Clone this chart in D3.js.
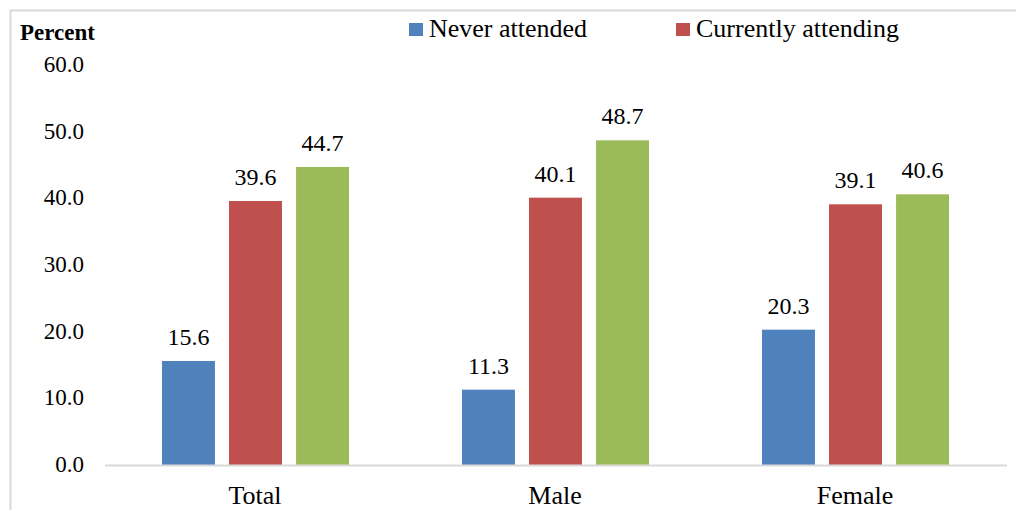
<!DOCTYPE html>
<html>
<head>
<meta charset="utf-8">
<script src="https://cdn.jsdelivr.net/npm/d3@7"></script>
</head>
<body style="margin:0">
<svg id="chart" width="1016" height="510" font-family="Liberation Serif"></svg>
<script>
// school attendance by sex, percent

const categories = ['Total', 'Male', 'Female'];
const seriesNames = ['Never attended', 'Currently attending', 'Attended in the past'];
const neverAttended = [15.6, 11.3, 20.3];
const currentlyAttending = [39.6, 40.1, 39.1];
const attendedPast = [44.7, 48.7, 40.6];
const yTicks = [0, 10, 20, 30, 40, 50, 60];

const colors = ['#4f81bd', '#c0504d', '#9bbb59'];
const series = [neverAttended, currentlyAttending, attendedPast];
const serif = 'Liberation Serif';

const svg = d3.select('#chart');

// outer frame (runs off the right / bottom edge like the source)
svg.append('rect')
  .attr('x', 10.5).attr('y', 10.5)
  .attr('width', 1100).attr('height', 600)
  .attr('fill', 'none')
  .attr('stroke', '#d9d9d9')
  .attr('stroke-width', 2);

const x0 = d3.scaleBand()
  .domain(categories)
  .range([105, 1005]);

const x1 = d3.scaleBand()
  .domain(d3.range(series.length))
  .range([57, 244])
  .paddingInner(0.21);

const y = d3.scaleLinear()
  .domain([0, 60])
  .range([465, 65]);

// y tick labels
svg.append('g').selectAll('text')
  .data(yTicks)
  .join('text')
  .attr('x', 84)
  .attr('y', d => y(d) + 7)
  .attr('text-anchor', 'end')
  .attr('font-size', 23)
  .attr('font-family', serif)
  .text(d => d.toFixed(1));

svg.append('text')
  .attr('x', 20).attr('y', 40)
  .attr('font-size', 23)
  .attr('font-weight', 'bold')
  .attr('font-family', serif)
  .text('Percent');

// bars
const groups = svg.append('g').selectAll('g')
  .data(categories)
  .join('g')
  .attr('transform', d => `translate(${x0(d)},0)`);

groups.selectAll('rect')
  .data((d, i) => series.map((s, k) => ({ k: k, v: s[i] })))
  .join('rect')
  .attr('x', d => x1(d.k))
  .attr('width', x1.bandwidth())
  .attr('y', d => y(d.v))
  .attr('height', d => y(0) - y(d.v))
  .attr('fill', d => colors[d.k]);

groups.selectAll('text.val')
  .data((d, i) => series.map((s, k) => ({ k: k, v: s[i] })))
  .join('text')
  .attr('class', 'val')
  .attr('x', d => x1(d.k) + x1.bandwidth() / 2)
  .attr('y', d => y(d.v) - 16)
  .attr('text-anchor', 'middle')
  .attr('font-size', 24)
  .attr('font-family', serif)
  .text(d => d.v.toFixed(1));

// baseline
svg.append('line')
  .attr('x1', 105).attr('x2', 1007)
  .attr('y1', y(0) + 0.5).attr('y2', y(0) + 0.5)
  .attr('stroke', '#d9d9d9')
  .attr('stroke-width', 2);

// category labels
svg.append('g').selectAll('text')
  .data(categories)
  .join('text')
  .attr('x', d => x0(d) + x0.bandwidth() / 2)
  .attr('y', 504)
  .attr('text-anchor', 'middle')
  .attr('font-size', 26)
  .attr('font-family', serif)
  .text(d => d);

// legend: only the first two entries fit inside the frame
const legend = svg.append('g').selectAll('g')
  .data(seriesNames.slice(0, 2))
  .join('g')
  .attr('transform', (d, i) => `translate(${409 + i * 267},23)`);

legend.append('rect')
  .attr('width', 14).attr('height', 13)
  .attr('fill', (d, i) => colors[i]);

legend.append('text')
  .attr('x', 20).attr('y', 14)
  .attr('font-size', 26)
  .attr('font-family', serif)
  .text(d => d);
</script>
</body>
</html>
